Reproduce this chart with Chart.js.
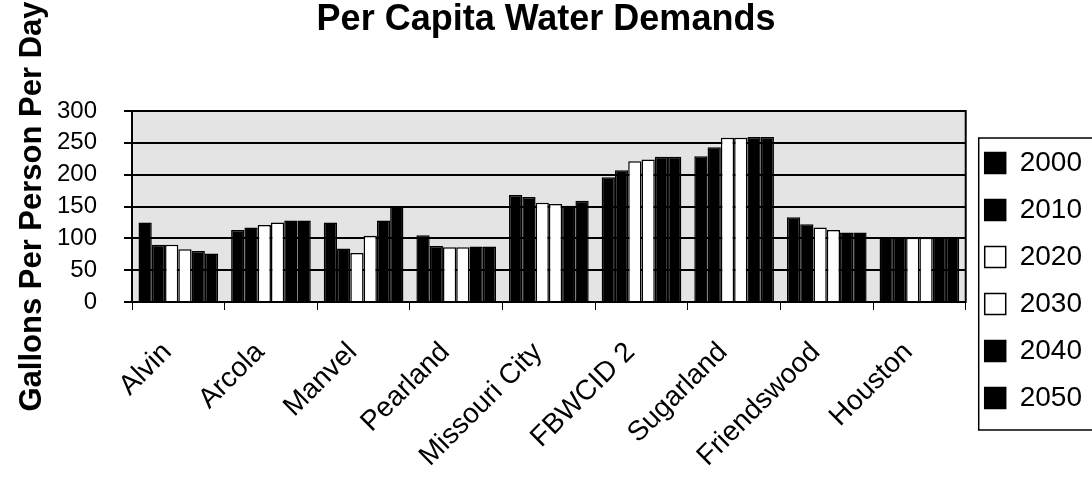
<!DOCTYPE html>
<html>
<head>
<meta charset="utf-8">
<title>Per Capita Water Demands</title>
<script src="https://cdn.jsdelivr.net/npm/chart.js@4.4.1/dist/chart.umd.min.js"></script>
<style>
  html, body { margin: 0; padding: 0; background: #fff; }
  #wrap { width: 1092px; height: 477px; }
</style>
</head>
<body>
<div id="wrap"><canvas id="chart"></canvas></div>
<script>
// Chart data
const cities = ['Alvin', 'Arcola', 'Manvel', 'Pearland', 'Missouri City', 'FBWCID 2', 'Sugarland', 'Friendswood', 'Houston'];
const years = ['2000', '2010', '2020', '2030', '2040', '2050'];
const gpcd2000 = [125, 113, 125, 105, 168, 196, 229, 133, 102];
const gpcd2010 = [90, 117, 84, 88, 165, 207, 243, 122, 102];
const gpcd2020 = [90, 121, 77, 86, 156, 221, 258, 117, 101];
const gpcd2030 = [83, 125, 104, 86, 154, 224, 258, 113, 101];
const gpcd2040 = [80, 128, 128, 87, 151, 228, 259, 109, 102];
const gpcd2050 = [76, 128, 150, 87, 159, 228, 259, 109, 102];
const yTicks = [0, 50, 100, 150, 200, 250, 300];

const seriesValues = [gpcd2000, gpcd2010, gpcd2020, gpcd2030, gpcd2040, gpcd2050];
const seriesFill = ['#000000', '#000000', '#ffffff', '#ffffff', '#000000', '#000000'];

const FONT = "'Liberation Sans', Arial, Helvetica, sans-serif";

// gray plot background + black frame round the plot
const plotFrame = {
    id: 'plotFrame',
    beforeDraw(chart) {
        const a = chart.chartArea;
        const ctx = chart.ctx;
        ctx.save();
        ctx.fillStyle = '#e4e4e4';
        ctx.fillRect(a.left, a.top, a.right - a.left, a.bottom - a.top);
        ctx.restore();
    },
    afterDraw(chart) {
        const a = chart.chartArea;
        const ctx = chart.ctx;
        ctx.save();
        ctx.strokeStyle = '#000';
        ctx.lineWidth = 2;
        ctx.strokeRect(a.left, a.top, a.right - a.left, a.bottom - a.top);
        // box round the legend
        const boxes = chart.legend.legendHitBoxes;
        if (boxes && boxes.length) {
            const first = boxes[0];
            const last = boxes[boxes.length - 1];
            const x = first.left - 6;
            const y = first.top - 11;
            const h = last.top + last.height + 18 - y;
            ctx.lineWidth = 1.5;
            ctx.strokeRect(x, y, chart.width + 5 - x, h);
        }
        ctx.restore();
    }
};

const datasets = years.map((yr, i) => ({
    label: yr,
    data: seriesValues[i],
    backgroundColor: seriesFill[i],
    borderColor: '#000000',
    borderWidth: 1.5,
    barPercentage: 1,
    categoryPercentage: 0.86
}));

new Chart(document.getElementById('chart'), {
    type: 'bar',
    data: { labels: cities, datasets: datasets },
    plugins: [plotFrame],
    options: {
        responsive: true,
        maintainAspectRatio: false,
        animation: false,
        layout: { padding: { left: 0, right: 0, top: 0, bottom: 0 } },
        plugins: {
            title: {
                display: true,
                text: 'Per Capita Water Demands',
                color: '#000',
                font: { family: FONT, size: 36, weight: 'bold', lineHeight: 1 },
                padding: { top: 2, bottom: 73 }
            },
            legend: {
                position: 'right',
                title: {
                    display: true,
                    text: '',
                    font: { size: 10 },
                    padding: { top: 36, bottom: 36 }
                },
                labels: {
                    color: '#000',
                    font: { family: FONT, size: 28 },
                    boxWidth: 21,
                    boxHeight: 21,
                    padding: 19
                }
            },
            tooltip: { enabled: false }
        },
        scales: {
            x: {
                afterFit(scale) {
                    scale.height = 175;
                    scale.paddingLeft = 0;
                    scale.paddingRight = 0;
                },
                grid: {
                    offset: true,
                    drawOnChartArea: false,
                    color: '#000',
                    lineWidth: 1,
                    tickLength: 8
                },
                border: { display: true, color: '#000', width: 2 },
                ticks: {
                    color: '#000',
                    font: { family: FONT, size: 28 },
                    minRotation: 45,
                    maxRotation: 45,
                    autoSkip: false,
                    labelOffset: -11,
                    padding: 26
                }
            },
            y: {
                min: 0,
                max: 300,
                afterBuildTicks(scale) {
                    scale.ticks = yTicks.map(v => ({ value: v }));
                },
                afterFit(scale) {
                    scale.width = 132;
                },
                grid: {
                    color: '#000',
                    lineWidth: 2,
                    tickLength: 8
                },
                border: { display: true, color: '#000', width: 2 },
                ticks: {
                    color: '#000',
                    font: { family: FONT, size: 24 },
                    autoSkip: false,
                    padding: 27
                },
                title: {
                    display: true,
                    text: 'Gallons Per Person Per Day',
                    color: '#000',
                    font: { family: FONT, size: 31, weight: 'bold' },
                    padding: { top: 14, bottom: 8 }
                }
            }
        }
    }
});
</script>
</body>
</html>
